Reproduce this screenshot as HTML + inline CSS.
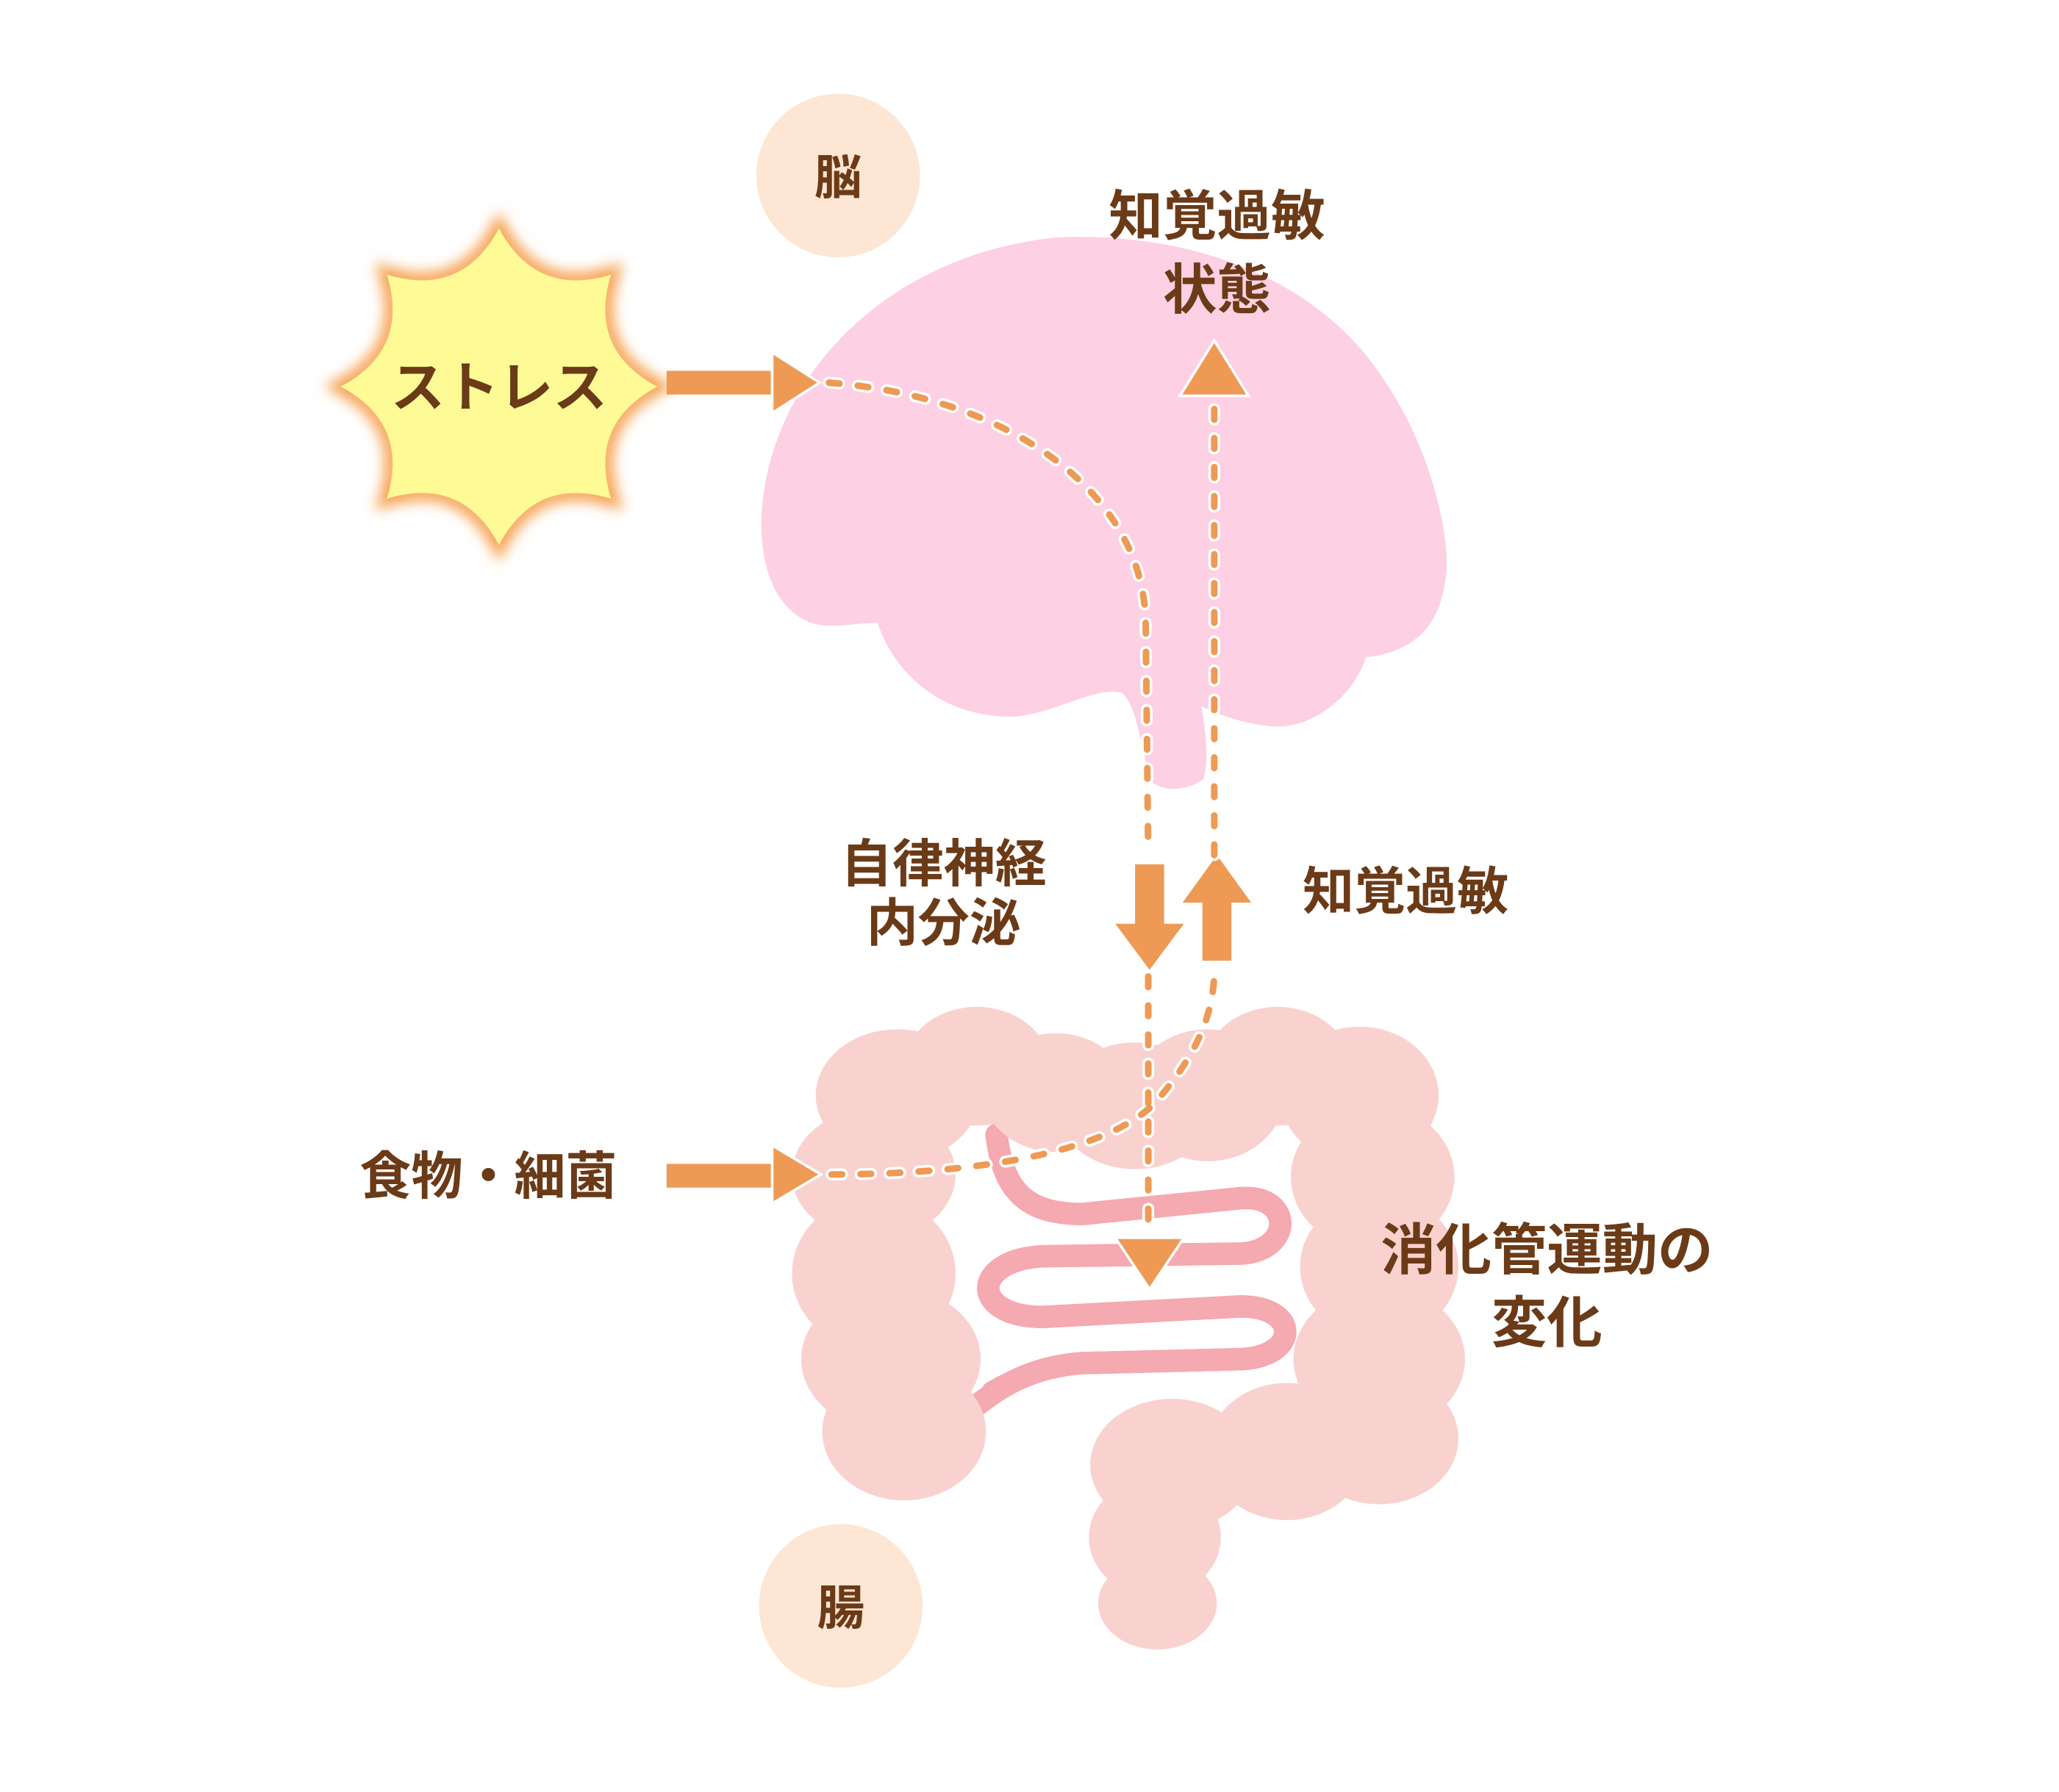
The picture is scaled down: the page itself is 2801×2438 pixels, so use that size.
<!DOCTYPE html>
<html><head><meta charset="utf-8"><style>
html,body{margin:0;padding:0;background:#fff}
svg{display:block}
text{font-family:"Liberation Sans","Noto Sans CJK JP",sans-serif;font-weight:bold;fill:#6b3a17;text-anchor:middle}
</style></head><body>
<svg width="2801" height="2438" viewBox="0 0 1560 1358" xmlns="http://www.w3.org/2000/svg">
<defs>
<filter id="glow" x="-30%" y="-30%" width="160%" height="160%"><feGaussianBlur stdDeviation="5"/></filter>
</defs>
<!-- brain -->
<path fill="#fdd0e3" d="M 610,470 C 570,450 570,380 590,330 C 620,250 700,190 800,180 C 900,175 1000,210 1050,290 C 1090,350 1100,420 1095,440 C 1090,480 1065,495 1035,498 C 1025,530 990,555 960,550 C 940,548 920,540 910,535 C 915,560 915,580 912,590 C 900,600 880,600 872,592 C 865,570 862,535 850,525 C 830,520 800,540 770,543 C 710,545 675,505 665,472 C 645,472 625,478 610,470 Z"/>
<circle cx="635" cy="133" r="62" fill="#fde6d3"/>
<text x="635" y="147" font-size="36">脳</text>
<circle cx="637" cy="1217" r="62" fill="#fde6d3"/>
<text x="637" y="1231" font-size="36">腸</text>

<!-- sun -->
<g transform="translate(378,293)">
<path filter="url(#glow)" fill="none" stroke="#f6a050" stroke-width="12" d="M0,-120 Q27.9,-67.4 84.9,-84.9 Q67.4,-27.9 120,0 Q67.4,27.9 84.9,84.9 Q27.9,67.4 0,120 Q-27.9,67.4 -84.9,84.9 Q-67.4,27.9 -120,0 Q-67.4,-27.9 -84.9,-84.9 Q-27.9,-67.4 0,-120 Z"/>
<path fill="#fefa96" d="M0,-120 Q27.9,-67.4 84.9,-84.9 Q67.4,-27.9 120,0 Q67.4,27.9 84.9,84.9 Q27.9,67.4 0,120 Q-27.9,67.4 -84.9,84.9 Q-67.4,27.9 -120,0 Q-67.4,-27.9 -84.9,-84.9 Q-27.9,-67.4 0,-120 Z"/>
</g>
<text x="378" y="308" font-size="41">ストレス</text>

<!-- intestine -->
<path fill="none" stroke="#f5a9b0" stroke-width="17" stroke-linecap="round" d="M 755,860 C 760,900 775,920 820,920 L 940,908 C 980,905 980,948 940,950 L 790,952 C 735,955 735,998 790,998 L 940,990 C 985,990 985,1028 940,1030 L 820,1033 C 780,1036 760,1050 740,1065"/>

<!-- colon -->
<g fill="#f9d2d0">
<ellipse cx="680" cy="830" rx="62" ry="50"/>
<ellipse cx="740" cy="808" rx="55" ry="45"/>
<ellipse cx="800" cy="828" rx="55" ry="45"/>
<ellipse cx="860" cy="838" rx="60" ry="48"/>
<ellipse cx="915" cy="830" rx="58" ry="50"/>
<ellipse cx="968" cy="808" rx="55" ry="45"/>
<ellipse cx="1030" cy="830" rx="60" ry="52"/>
<ellipse cx="662" cy="890" rx="62" ry="50"/>
<ellipse cx="662" cy="965" rx="62" ry="58"/>
<ellipse cx="675" cy="1030" rx="68" ry="55"/>
<ellipse cx="685" cy="1085" rx="62" ry="52"/>
<ellipse cx="1040" cy="892" rx="62" ry="55"/>
<ellipse cx="1045" cy="960" rx="60" ry="55"/>
<ellipse cx="1045" cy="1030" rx="65" ry="55"/>
<ellipse cx="1045" cy="1090" rx="60" ry="50"/>
<ellipse cx="975" cy="1100" rx="60" ry="52"/>
<ellipse cx="888" cy="1110" rx="62" ry="50"/>
<ellipse cx="875" cy="1165" rx="50" ry="45"/>
<ellipse cx="877" cy="1215" rx="45" ry="35"/>
</g>
<path fill="none" stroke="#f5a9b0" stroke-width="17" stroke-linecap="round" d="M 790,952 C 735,955 735,998 790,998 L 940,990 C 985,990 985,1028 940,1030 L 820,1033 C 790,1035 770,1045 752,1055"/>
<path fill="none" stroke="#f5a9b0" stroke-width="17" stroke-linecap="round" d="M 820,920 L 940,908 C 980,905 980,948 940,950 L 790,952"/>

<!-- block arrows -->
<g fill="#ee9a55">
<rect x="505" y="281" width="82" height="18"/>
<polygon points="585,267 621,290 585,313" stroke="#fff" stroke-width="2"/>
<rect x="505" y="882" width="82" height="18"/>
<polygon points="585,868 622,890 585,912" stroke="#fff" stroke-width="2"/>
<rect x="860" y="655" width="22" height="47"/>
<polygon points="845,700 897,700 871,735"/>
<rect x="911" y="682" width="22" height="46"/>
<polygon points="896,684 922,648 948,684"/>
</g>

<!-- dashed lines -->
<g fill="none" stroke-linecap="round" stroke-dasharray="8 14">
<g stroke="#fff" stroke-width="9">
<path d="M 628,290 C 760,300 865,370 868,470 L 870,648"/>
<path d="M 920,648 L 920,305"/>
<path d="M 870,740 L 870,935"/>
<path d="M 630,890 C 750,890 850,870 880,830 C 905,800 920,770 920,735"/>
</g>
<g stroke="#ee9a55" stroke-width="5">
<path d="M 628,290 C 760,300 865,370 868,470 L 870,648"/>
<path d="M 920,648 L 920,305"/>
<path d="M 870,740 L 870,935"/>
<path d="M 630,890 C 750,890 850,870 880,830 C 905,800 920,770 920,735"/>
</g>
</g>
<polygon points="894,300 920,258 946,300" fill="#ee9a55" stroke="#fff" stroke-width="2"/>
<polygon points="845,938 897,938 871,977" fill="#ee9a55" stroke="#fff" stroke-width="2"/>

<!-- labels -->
<text x="922" y="178" font-size="41">知覚過敏</text>
<text x="922" y="234" font-size="41">状態</text>
<text x="715" y="668" font-size="39">自律神経</text>
<text x="715" y="713" font-size="39">内分泌</text>
<text x="1065" y="689" font-size="39">知覚過敏</text>
<text x="370" y="905" font-size="39">食物・細菌</text>
<text x="1172" y="962" font-size="42">消化管運動の</text>
<text x="1172" y="1017" font-size="42">変化</text>
</svg>
</body></html>
